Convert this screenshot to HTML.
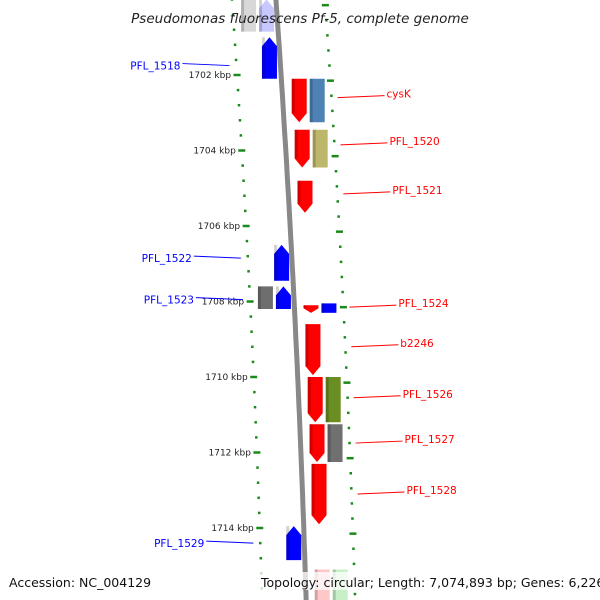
<!DOCTYPE html>
<html><head><meta charset="utf-8"><style>
html,body{margin:0;padding:0;background:#fff;}
svg{display:block;font-family:"Liberation Sans","DejaVu Sans",sans-serif;}
</style></head><body>
<svg id="map" width="600" height="600" viewBox="0 0 600 600">
<defs>
<linearGradient id="bb" x1="0" x2="1"><stop offset="0" stop-color="#aaa"/><stop offset="0.5" stop-color="#777"/><stop offset="1" stop-color="#999"/></linearGradient>
</defs>
<g id="ticks"></g>
<path id="backbone" fill="none" stroke="#888" stroke-width="5"/>
<g id="genes"></g>
<g id="labels"></g>
<text x="300" y="23" text-anchor="middle" font-size="13.5" font-style="italic" fill="#222" font-family="DejaVu Sans, sans-serif">Pseudomonas fluorescens Pf-5, complete genome</text>
<rect x="5" y="572" width="150" height="18" fill="#fff" opacity="0.8"/>
<text x="9" y="587" font-size="12.5" fill="#111" font-family="DejaVu Sans, sans-serif">Accession: NC_004129</text>
<rect x="258" y="572" width="338" height="18" fill="#fff" opacity="0.75"/>
<text x="261" y="587" font-size="12.5" fill="#111" font-family="DejaVu Sans, sans-serif">Topology: circular; Length: 7,074,893 bp; Genes: 6,226</text>
</svg>
<script>
// data
const majorTicks = [1702, 1704, 1706, 1708, 1710, 1712, 1714];
const majorLabels = ["1702 kbp","1704 kbp","1706 kbp","1708 kbp","1710 kbp","1712 kbp","1714 kbp"];
const geneStart = [1700.0, 1700.0, 1701.0, 1702.1, 1702.1, 1703.45, 1703.45, 1704.8, 1706.5, 1707.6, 1707.6, 1708.1, 1708.05, 1708.6, 1710.0, 1710.0, 1711.25, 1711.25, 1712.3, 1713.95, 1715.1, 1715.1];
const geneEnd   = [1700.85, 1700.85, 1702.1, 1703.25, 1703.25, 1704.45, 1704.45, 1705.65, 1707.45, 1708.2, 1708.2, 1708.3, 1708.3, 1709.95, 1711.2, 1711.2, 1712.25, 1712.25, 1713.9, 1714.85, 1716.0, 1716.0];
const geneLane  = [-2, -1, -1, 1, 2, 1, 2, 1, -1, -2, -1, 1, 2, 1, 1, 2, 1, 2, 1, -1, 1, 2];
const geneStrand= [0, -1, -1, 1, 0, 1, 0, 1, -1, 0, -1, 1, 0, 1, 1, 0, 1, 0, 1, -1, 0, 0];
const geneColor = ["#d8d8d8","#c8c8ff","#0000ff","#ff0000","#4f82b4","#ff0000","#bdb76b","#ff0000","#0000ff","#6e6e6e","#0000ff","#ff0000","#0000ff","#ff0000","#ff0000","#6b8e23","#ff0000","#707070","#ff0000","#0000ff","#ffc8c8","#c8f0c8"];
const labelText = ["PFL_1518","cysK","PFL_1520","PFL_1521","PFL_1522","PFL_1523","PFL_1524","b2246","PFL_1526","PFL_1527","PFL_1528","PFL_1529"];
const labelPos  = [1701.75, 1702.6, 1703.85, 1705.15, 1706.85, 1707.95, 1708.15, 1709.2, 1710.55, 1711.75, 1713.1, 1714.4];
const labelSide = [-1, 1, 1, 1, -1, -1, 1, 1, 1, 1, 1, -1];

// axis functions
const Y = k => 75 + (k - 1702) * 37.75;
const BX = y => 276 + 0.07 * y - 0.000033 * y * y;
const laneOff = {"-2": [-36, -21], "-1": [-18, -3], "1": [9, 24], "2": [27, 42]};
const NS = "http://www.w3.org/2000/svg";
const mk = (t, a, p) => { const e = document.createElementNS(NS, t); for (const k in a) e.setAttribute(k, a[k]); p.appendChild(e); return e; };

// backbone
let d = "";
for (let y = -5; y <= 605; y += 10) d += (d ? "L" : "M") + BX(y).toFixed(1) + " " + y;
document.getElementById("backbone").setAttribute("d", d);

// ticks
const tg = document.getElementById("ticks");
for (let k = 1700; k <= 1716.01; k += 0.4) {
  const kk = Math.round(k * 10) / 10;
  const y = Y(kk);
  const isMaj = majorTicks.includes(Math.round(kk * 10) / 10) && Math.abs(kk - Math.round(kk)) < 0.01;
  const w = isMaj ? 7 : 2.5;
  const xl = BX(y) - 44;
  const t = mk("line", {x1: xl - w/2, x2: xl + w/2, y1: y, y2: y, stroke: "#1a8a1a", "stroke-width": 2.5}, tg);
  
  
  // right ring ticks, offset ~ -0.3 kbp
  const yr = Y(kk - 0.25);
  const majR = Math.abs(((kk - 1700.4) / 2) - Math.round((kk - 1700.4) / 2)) < 0.01;
  const wr = majR ? 7 : 2.5;
  const xr = BX(yr) + 49;
  const r = mk("line", {x1: xr - wr/2, x2: xr + wr/2, y1: yr, y2: yr, stroke: "#1a8a1a", "stroke-width": 2.5}, tg);
  
  
}
majorTicks.forEach((k, i) => {
  const y = Y(k);
  const t = mk("text", {x: BX(y) - 50, y: y + 3, "text-anchor": "end", "font-size": 9, fill: "#222", "font-family": "DejaVu Sans, sans-serif"}, tg);
  t.textContent = majorLabels[i];
  
  
});

// genes
const gg = document.getElementById("genes");
geneStart.forEach((s, i) => {
  const y1 = Y(s), y2 = Y(geneEnd[i]);
  const o = laneOff[geneLane[i]];
  const xm = BX((y1 + y2) / 2);
  const xa = xm + o[0], xb = xm + o[1];
  const h = Math.min(9, (y2 - y1) * 0.6);
  let pts;
  if (geneStrand[i] === 1) pts = [[xa,y1],[xb,y1],[xb,y2-h],[(xa+xb)/2,y2],[xa,y2-h]];
  else if (geneStrand[i] === -1) pts = [[(xa+xb)/2,y1],[xb,y1+h],[xb,y2],[xa,y2],[xa,y1+h]];
  else pts = [[xa,y1],[xb,y1],[xb,y2],[xa,y2]];
  const p = mk("polygon", {points: pts.map(q => q.join(",")).join(" "), fill: geneColor[i]}, gg);
  
  
  const sh = mk("rect", {x: xa, y: y1, width: 3, height: y2 - y1 - (geneStrand[i] === 1 ? h : 0), fill: "#000", opacity: 0.18}, gg);
  
  
});

// labels
const lg = document.getElementById("labels");
labelText.forEach((t, i) => {
  const y = Y(labelPos[i]);
  const side = labelSide[i];
  const col = side < 0 ? "#0000ff" : "#ff0000";
  const x0 = BX(y) + side * (side < 0 ? 51 : 55);
  const x1 = x0 + side * 47;
  const l = mk("line", {x1: x0, y1: y, x2: x1, y2: y + 2 * (side < 0 ? 1 : 1) * -side * -1 - 4 * (side > 0 ? 1 : 0), stroke: col, "stroke-width": 1}, lg);
  
  
  const tx = mk("text", {x: x1 + side * 2, y: y + 4 - (side > 0 ? 4 : 0), "text-anchor": side < 0 ? "end" : "start", "font-size": 10.5, fill: col, "font-family": "DejaVu Sans, sans-serif"}, lg);
  tx.textContent = t;
  
  
});
</script>
</body></html>
